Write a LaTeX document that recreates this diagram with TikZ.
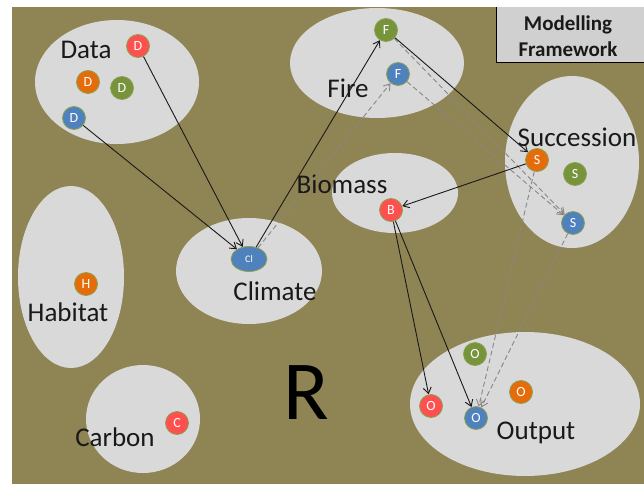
\documentclass[tikz,border=0pt]{standalone}
\usepackage{fontspec}
\setmainfont{Carlito}
\usetikzlibrary{arrows.meta,shapes.geometric}
\definecolor{bgolive}{RGB}{143,132,84}
\definecolor{regiongray}{RGB}{217,217,217}
\definecolor{boxgray}{RGB}{208,208,208}
\definecolor{cred}{RGB}{255,80,80}
\definecolor{corange}{RGB}{228,108,10}
\definecolor{cgreen}{RGB}{119,147,60}
\definecolor{cblue}{RGB}{79,129,189}
\definecolor{cborder}{RGB}{140,160,80}
\definecolor{dashgray}{RGB}{135,135,135}
\tikzset{
  region/.style={ellipse, fill=regiongray, draw=none, inner sep=0pt},
  circ/.style={circle, minimum size=23pt, inner sep=0pt, draw=cborder, line width=0.8pt,
    text=white, font=\fontsize{14}{14}\selectfont},
  lbl/.style={text=black!90, font=\fontsize{27}{27}\selectfont, inner sep=0pt},
  conn/.style={draw=black!90, line width=0.9pt, -{Straight Barb[length=6pt,width=8pt]}},
  dconn/.style={draw=dashgray, line width=0.9pt, dash pattern=on 5pt off 3pt,
    -{Straight Barb[length=6pt,width=8pt]}}
}
\begin{document}
\begin{tikzpicture}[x=1pt,y=-1pt]
\useasboundingbox (0,0) rectangle (644,484);
\fill[white] (0,0) rectangle (644,484);
\fill[bgolive] (12,7) rectangle (644,484);

% regions
\node[region, minimum width=164pt, minimum height=124pt] (rdata) at (117,82) {};
\node[region, minimum width=174pt, minimum height=110pt] (rfire) at (377,63) {};
\node[region, minimum width=134pt, minimum height=172pt] (rsucc) at (572,162) {};
\node[region, minimum width=126pt, minimum height=80pt] (rbio) at (395,193) {};
\node[region, minimum width=146pt, minimum height=106pt] (rclim) at (249,271) {};
\node[region, minimum width=106pt, minimum height=182pt] (rhab) at (71,277) {};
\node[region, minimum width=114pt, minimum height=108pt] (rcarb) at (143,419) {};
\node[region, minimum width=230pt, minimum height=144pt] (rout) at (525,404) {};

% framework box
\fill[boxgray] (496,7) rectangle (644,63);
\draw[black, line width=1pt] (496,7) -- (496,63) -- (644,63);
\node[font=\bfseries\fontsize{21}{26}\selectfont, align=center, text=black!90] (frame) at (568,36) {Modelling\\Framework};

% labels
\node[lbl] (ldata) at (86,50) {Data};
\node[lbl] (lfire) at (348,88) {Fire};
\node[lbl] (lsucc) at (577,137) {Succession};
\node[lbl] (lbio) at (342,184) {Biomass};
\node[lbl] (lclim) at (275,291) {Climate};
\node[lbl] (lhab) at (68,312) {Habitat};
\node[lbl] (lcarb) at (115,437) {Carbon};
\node[lbl] (lout) at (536,433) {Output};
\node[text=black, font=\fontsize{84}{84}\selectfont, inner sep=0pt] (rlbl) at (306,393) {R};

% circles
\node[circ, fill=cred] (dred) at (138,46) {D};
\node[circ, fill=corange] (dorange) at (88,82) {D};
\node[circ, fill=cgreen] (dgreen) at (122,88) {D};
\node[circ, fill=cblue] (dblue) at (74,118) {D};
\node[ellipse, minimum width=36pt, minimum height=25pt, inner sep=0pt, fill=cblue, draw=cborder,
  line width=0.8pt, text=white, font=\fontsize{10}{10}\selectfont] (cl) at (249,259) {Cl};
\node[circ, fill=cgreen] (fgreen) at (386,30) {F};
\node[circ, fill=cblue] (fblue) at (398,74) {F};
\node[circ, fill=corange] (sorange) at (537,160) {S};
\node[circ, fill=cgreen] (sgreen) at (575,174) {S};
\node[circ, fill=cblue] (sblue) at (573,223) {S};
\node[circ, fill=cred] (bred) at (391,210) {B};
\node[circ, fill=corange] (horange) at (86,284) {H};
\node[circ, fill=cred] (cred) at (177,423) {C};
\node[circ, fill=cgreen] (ogreen) at (475,354) {O};
\node[circ, fill=corange] (oorange) at (521,392) {O};
\node[circ, fill=cred] (ored) at (431,406) {O};
\node[circ, fill=cblue] (oblue) at (476,418) {O};

% dashed connectors
\draw[dconn] (cl) -- (fblue);
\draw[dconn] (fgreen) -- (sblue);
\draw[dconn] (fblue) -- (sblue);
\draw[dconn] (sorange) -- (oblue);
\draw[dconn] (sblue) -- (oblue);

% solid connectors
\draw[conn] (dred) -- (cl);
\draw[conn] (dblue) -- (cl);
\draw[conn] (cl) -- (fgreen);
\draw[conn] (fgreen) -- (sorange);
\draw[conn] (sorange) -- (bred);
\draw[conn] (bred) -- (ored);
\draw[conn] (bred) -- (oblue);
\end{tikzpicture}
\end{document}
